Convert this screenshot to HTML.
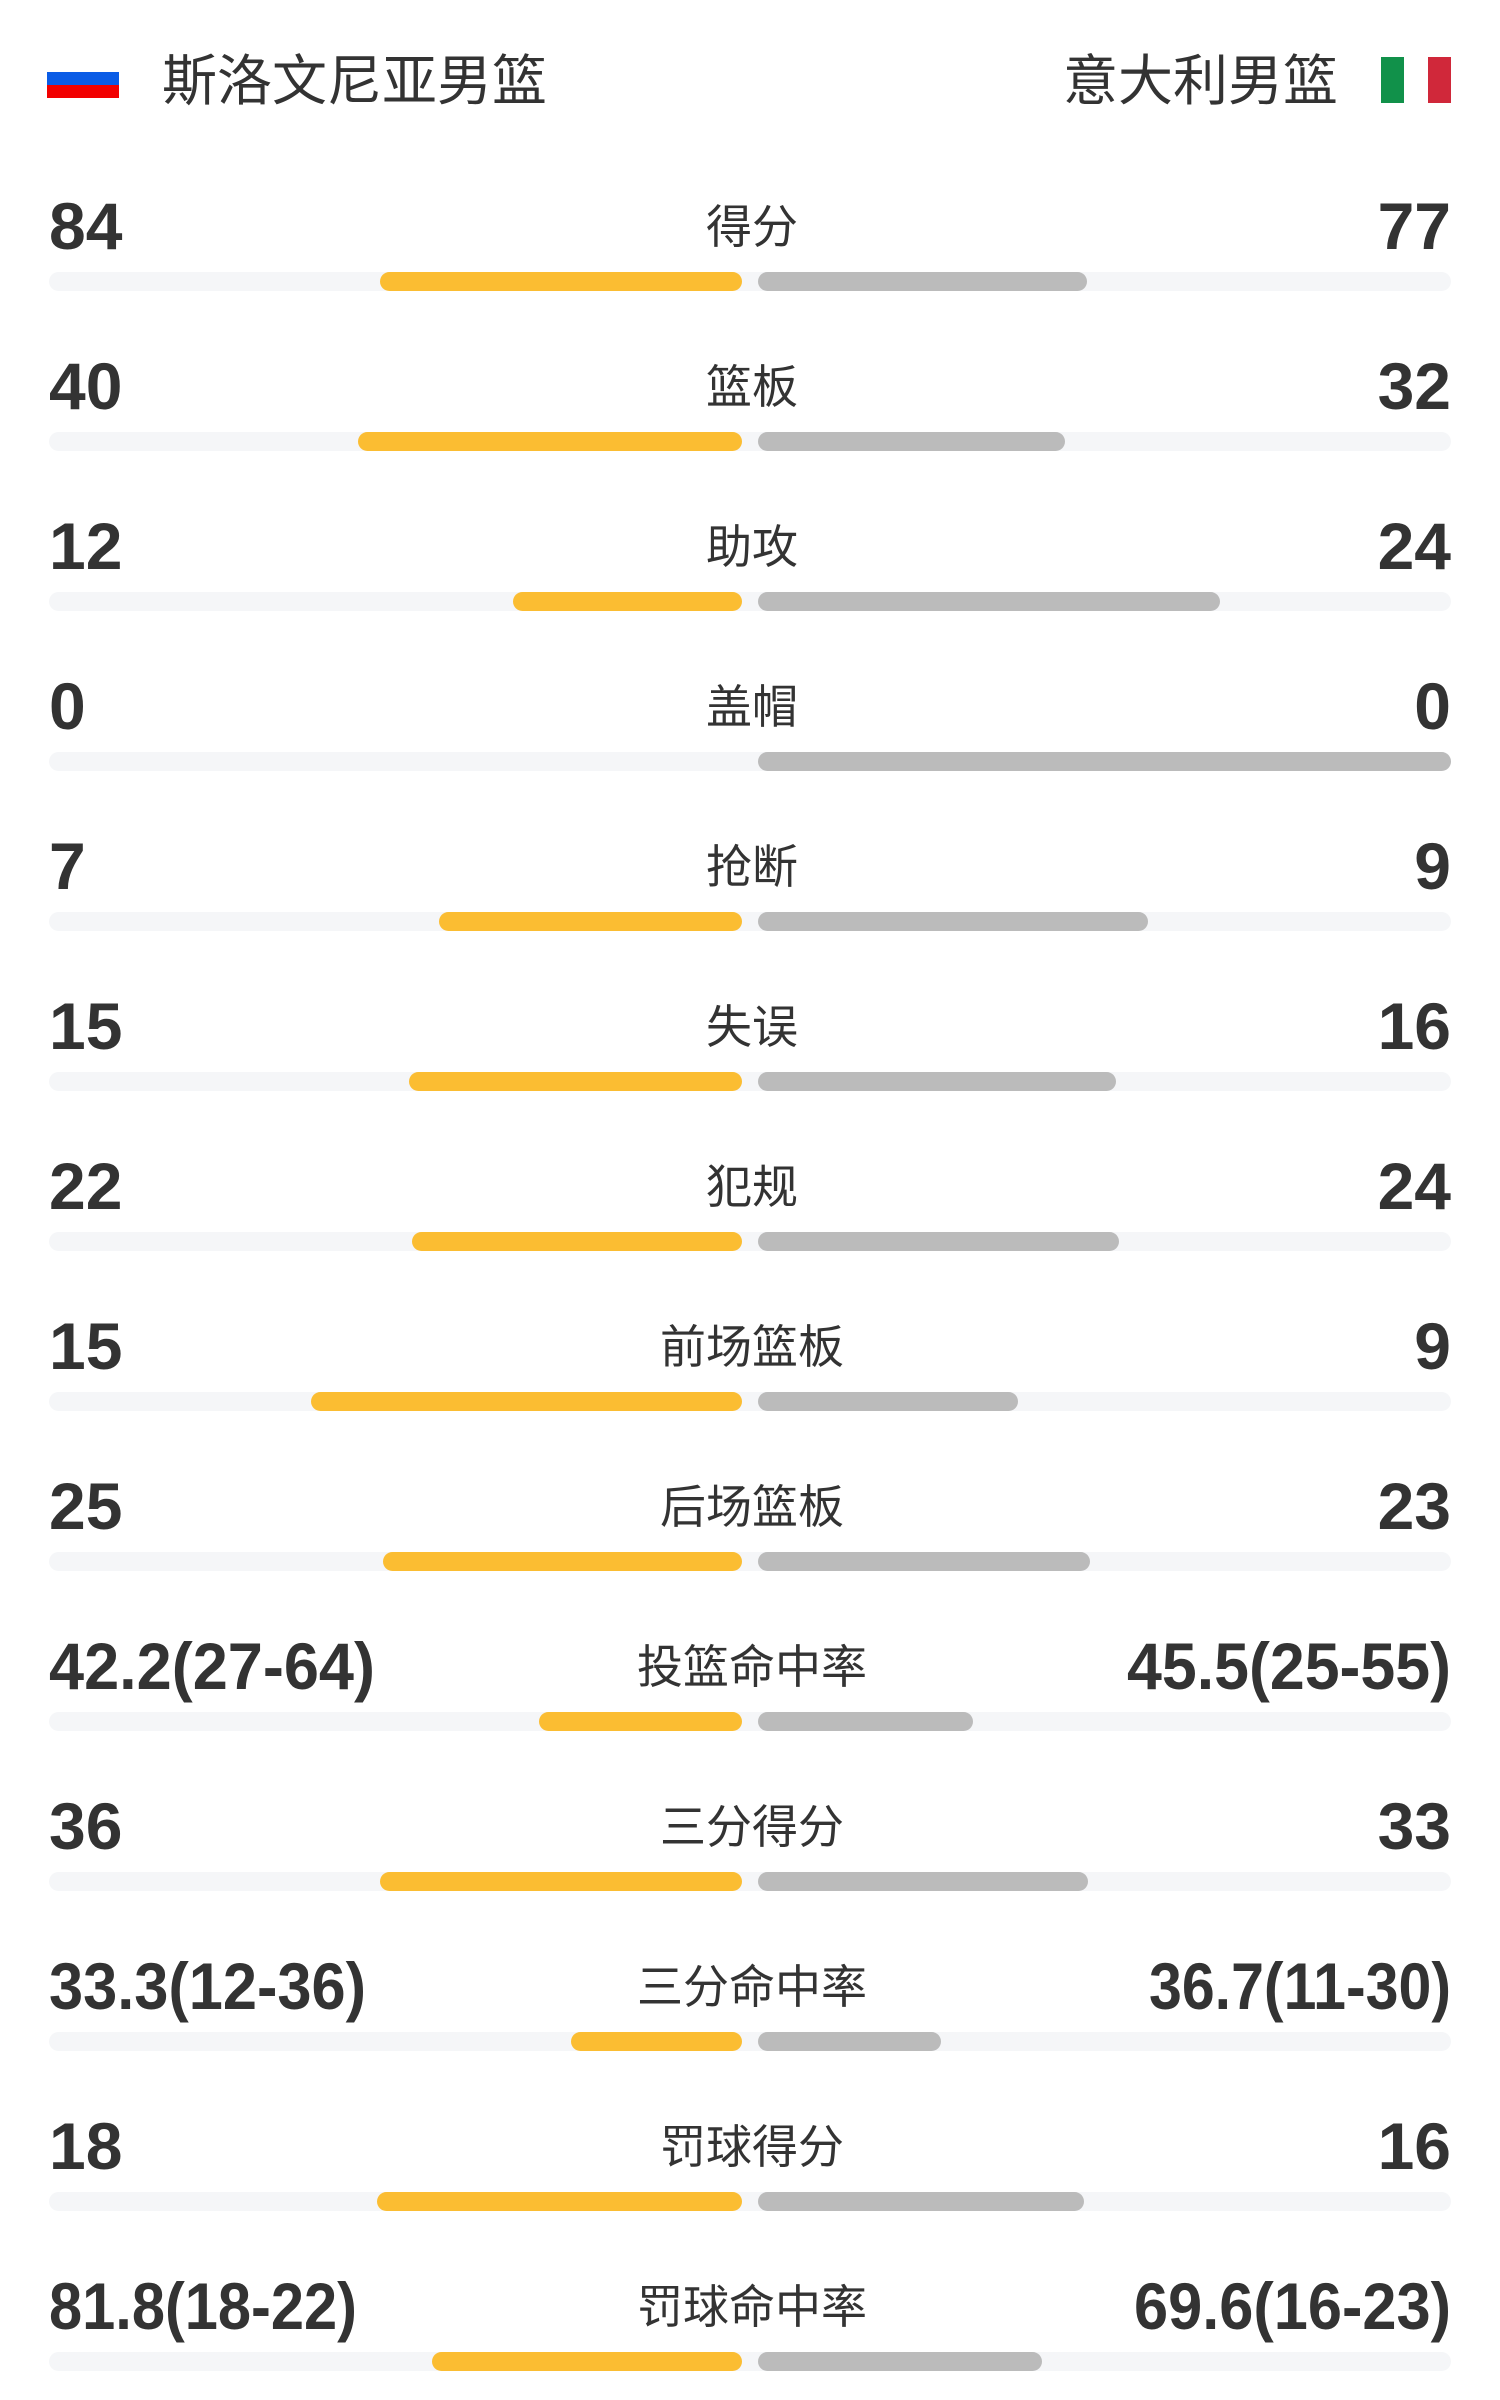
<!DOCTYPE html>
<html><head><meta charset="utf-8"><style>
html,body{margin:0;padding:0;background:#fff;width:1500px;height:2400px;overflow:hidden}
svg{display:block}
.n{font-family:"Liberation Sans",sans-serif;font-weight:bold;font-size:66px;fill:#333}
.l{font-family:"Liberation Sans","Noto Sans CJK SC",sans-serif;font-size:46px;fill:#333}
.t{font-family:"Liberation Sans","Noto Sans CJK SC",sans-serif;font-size:55px;fill:#333}
</style></head><body>
<svg width="1500" height="2400" xmlns="http://www.w3.org/2000/svg">
<rect x="47" y="68" width="72" height="5" fill="#fff"/>
<rect x="47" y="72" width="72" height="14" fill="#0a5ce6"/>
<rect x="47" y="85" width="72" height="13" fill="#f20000"/>
<text class="t" x="162" y="100">斯洛文尼亚男篮</text>
<text class="t" x="1338" y="100" text-anchor="end">意大利男篮</text>
<rect x="1381" y="57" width="23" height="46" fill="#11914a"/>
<rect x="1428" y="57" width="23" height="46" fill="#d0283a"/>
<g id="rows"></g>
</svg>
<script>
var d=[["84","得分","77",362,329],["40","篮板","32",384,307],["12","助攻","24",229,462],["0","盖帽","0",0,693],["7","抢断","9",303,390],["15","失误","16",333,358],["22","犯规","24",330,361],["15","前场篮板","9",431,260],["25","后场篮板","23",359,332],["42.2(27-64)","投篮命中率","45.5(25-55)",203,215,326,324],["36","三分得分","33",362,330],["33.3(12-36)","三分命中率","36.7(11-30)",171,183,317,302],["18","罚球得分","16",365,326],["81.8(18-22)","罚球命中率","69.6(16-23)",310,284,308,317]];
var s="";
d.forEach(function(r,i){var o=160*i;
var a=r[5]?' textLength="'+r[5]+'" lengthAdjust="spacingAndGlyphs"':'';
var b=r[6]?' textLength="'+r[6]+'" lengthAdjust="spacingAndGlyphs"':'';
s+='<text class="n" x="49" y="'+(249+o)+'"'+a+'>'+r[0]+'</text>';
if(r[6])s+='<text class="n" x="'+(1451-r[6])+'" y="'+(249+o)+'"'+b+'>'+r[2]+'</text>';
else s+='<text class="n" x="1451" y="'+(249+o)+'" text-anchor="end">'+r[2]+'</text>';
s+='<text class="l" x="752" y="'+(243+o)+'" text-anchor="middle">'+r[1]+'</text>';
s+='<rect x="49" y="'+(272+o)+'" width="1402" height="19" rx="9.5" fill="#f5f6f8"/>';
if(r[3]>0)s+='<rect x="'+(742-r[3])+'" y="'+(272+o)+'" width="'+r[3]+'" height="19" rx="9.5" fill="#fbbd32"/>';
s+='<rect x="758" y="'+(272+o)+'" width="'+r[4]+'" height="19" rx="9.5" fill="#bbbbbb"/>';
});
document.getElementById("rows").innerHTML=s;
</script>
</body></html>
